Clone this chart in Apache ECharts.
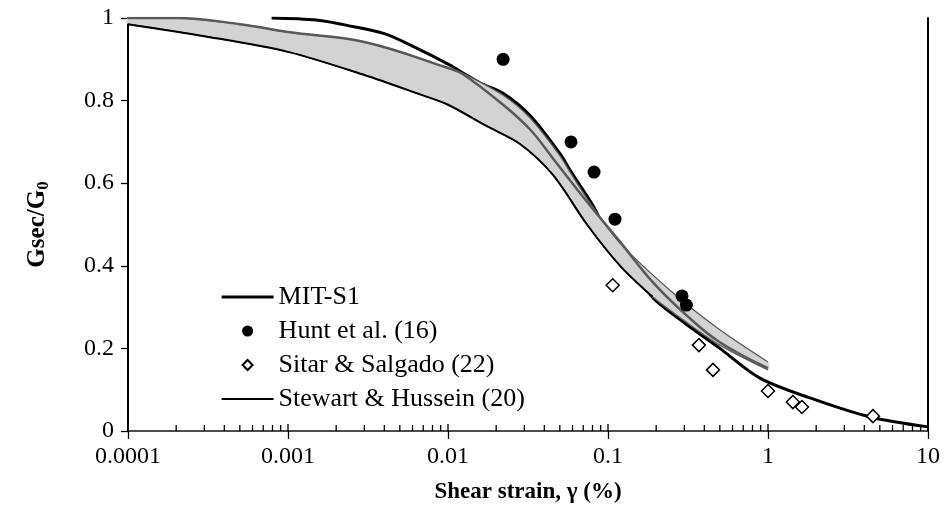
<!DOCTYPE html>
<html>
<head>
<meta charset="utf-8">
<script src="https://cdn.jsdelivr.net/npm/echarts@6/dist/echarts.min.js"></script>
<style>
  html, body { margin: 0; padding: 0; background: #fff; }
  #chart { width: 947px; height: 524px; }
</style>
</head>
<body>
<div id="chart"></div>
<script>
// tick labels
const xTickLabels = ['0.0001', '0.001', '0.01', '0.1', '1', '10']

// MIT-S1 curve (drawn under the band, so its middle part is hidden)
const mitX = [0.00079, 0.0015, 0.0025, 0.004, 0.006, 0.0103, 0.0124, 0.016, 0.0221, 0.0326, 0.05, 0.0587, 0.0805, 0.1, 0.125, 0.16, 0.2, 0.31, 0.5, 0.89, 1.83, 4.34, 10]
const mitY = [1.0, 0.995, 0.98, 0.962, 0.932, 0.886, 0.867, 0.842, 0.818, 0.764, 0.672, 0.628, 0.546, 0.475, 0.415, 0.36, 0.315, 0.258, 0.2, 0.128, 0.08, 0.034, 0.01]

// band, upper and lower bounds
const upperX = [0.0001, 0.0002, 0.0005, 0.001, 0.003, 0.01, 0.0124, 0.0221, 0.0326, 0.05, 0.0587, 0.0805, 0.119, 0.244, 0.5, 1]
const upperY = [1.0, 1.0, 0.985, 0.966, 0.942, 0.879, 0.866, 0.813, 0.758, 0.667, 0.623, 0.542, 0.455, 0.341, 0.245, 0.167]
const lowerX = [0.0001, 0.0003, 0.001, 0.003, 0.00668, 0.01, 0.0175, 0.0282, 0.0453, 0.0739, 0.119, 0.19, 0.31, 0.5, 1]
const lowerY = [0.985, 0.956, 0.918, 0.862, 0.815, 0.79, 0.738, 0.695, 0.62, 0.5, 0.40, 0.325, 0.263, 0.208, 0.148]

// Stewart & Hussein (20): black line along the lower bound
const stewartX = [0.0001, 0.0003, 0.001, 0.003, 0.00668, 0.01, 0.0175, 0.0282, 0.0453, 0.0739, 0.119, 0.19]
const stewartY = [0.985, 0.956, 0.918, 0.862, 0.815, 0.79, 0.738, 0.695, 0.62, 0.5, 0.40, 0.325]

// grey mean line through the band
const meanX = [0.0001, 0.0002, 0.0005, 0.001, 0.003, 0.01, 0.0124, 0.0221, 0.0326, 0.0453, 0.0739, 0.119, 0.191, 0.31, 0.5, 1]
const meanY = [1.0, 1.0, 0.985, 0.966, 0.942, 0.879, 0.864, 0.79, 0.73, 0.66, 0.555, 0.458, 0.36, 0.28, 0.215, 0.152]

// Hunt et al. (16)
const huntX = [0.0221, 0.0587, 0.0818, 0.1106, 0.29, 0.309]
const huntY = [0.90, 0.70, 0.627, 0.513, 0.327, 0.305]

// Sitar & Salgado (22)
const sitarX = [0.107, 0.37, 0.453, 1.0, 1.43, 1.63, 4.53]
const sitarY = [0.353, 0.208, 0.148, 0.097, 0.070, 0.058, 0.036]

const zip = (xs, ys) => xs.map((x, i) => [x, ys[i]])

// minor ticks 2..9 per decade, majors at decades
const minorTicks = []
const majorTicks = []
for (let e = -4; e <= 1; e++) {
  majorTicks.push(Math.pow(10, e))
  if (e < 1) {
    for (let k = 2; k <= 9; k++) minorTicks.push(k * Math.pow(10, e))
  }
}

const font = "'Liberation Serif', 'Times New Roman', serif"

const tickSeries = (name, vals, len) => ({
  name: name,
  type: 'custom',
  silent: true,
  clip: false,
  z: 5,
  data: vals.map((v) => [v, 0]),
  renderItem: (params, api) => {
    const p = api.coord([api.value(0), 0])
    return {
      type: 'line',
      shape: { x1: p[0], y1: p[1], x2: p[0], y2: p[1] - len },
      style: { stroke: '#000', lineWidth: 1.3 },
    }
  },
})

const chart = echarts.init(document.getElementById('chart'))
chart.setOption({
  animation: false,
  backgroundColor: '#fff',
  textStyle: { fontFamily: font },
  grid: { left: 128, right: 19, top: 18, bottom: 93 },
  legend: {
    orient: 'vertical',
    left: 215,
    top: 279,
    itemWidth: 52,
    itemHeight: 11,
    itemGap: 8,
    textStyle: { fontFamily: font, fontSize: 26, color: '#000', lineHeight: 26 },
    data: [
      { name: 'MIT-S1', itemStyle: { opacity: 0 }, lineStyle: { width: 3.2, color: '#000' } },
      { name: 'Hunt et al. (16)' },
      { name: 'Sitar & Salgado (22)', icon: 'path://M0,0 M52,11 M26,0.5 L31,5.5 L26,10.5 L21,5.5 Z' },
      { name: 'Stewart & Hussein (20)', itemStyle: { opacity: 0 }, lineStyle: { width: 2, color: '#000' } },
    ],
  },
  xAxis: [
    {
      type: 'log',
      logBase: 10,
      min: 0.0001,
      max: 10,
      name: 'Shear strain, γ (%)',
      nameLocation: 'middle',
      nameGap: 50,
      nameTextStyle: { fontFamily: font, fontSize: 23, fontWeight: 'bold', color: '#000' },
      axisLine: { lineStyle: { color: '#000', width: 2 } },
      axisTick: { show: true, length: 8, lineStyle: { color: '#000', width: 1.3 } },
      axisLabel: {
        margin: 14,
        fontSize: 24,
        color: '#000',
        fontFamily: font,
        formatter: (v) => xTickLabels[Math.round(Math.log10(v)) + 4],
      },
      splitLine: { show: false },
    },
    {
      type: 'log',
      logBase: 10,
      min: 0.0001,
      max: 10,
      position: 'top',
      axisLine: { lineStyle: { color: '#666', width: 1.5 } },
      axisTick: { show: false },
      axisLabel: { show: false },
      splitLine: { show: false },
    },
  ],
  yAxis: [
    {
      type: 'value',
      min: 0,
      max: 1,
      interval: 0.2,
      name: '{a|Gsec/G}{b|0}',
      nameLocation: 'middle',
      nameGap: 76,
      nameRotate: 90,
      nameTextStyle: {
        rich: {
          a: { fontFamily: font, fontSize: 25, fontWeight: 'bold', color: '#000', lineHeight: 28 },
          b: { fontFamily: font, fontSize: 17, fontWeight: 'bold', color: '#000', lineHeight: 15, verticalAlign: 'bottom', padding: [13, 0, 0, 0] },
        },
      },
      axisLine: { show: true, lineStyle: { color: '#000', width: 2 } },
      axisTick: { show: true, length: 7, lineStyle: { color: '#000', width: 1.3 } },
      axisLabel: { margin: 14, fontSize: 24, color: '#000', fontFamily: font },
      splitLine: { show: false },
    },
    {
      type: 'value',
      min: 0,
      max: 1,
      position: 'right',
      axisLine: { show: true, lineStyle: { color: '#000', width: 2 } },
      axisTick: { show: false },
      axisLabel: { show: false },
      splitLine: { show: false },
    },
  ],
  series: [
    {
      name: 'MIT-S1',
      type: 'line',
      data: zip(mitX, mitY),
      symbol: 'none',
      smooth: 0.3,
      z: 1,
      color: '#000',
      lineStyle: { color: '#000', width: 3 },
    },
    {
      name: 'band',
      type: 'custom',
      silent: true,
      z: 2,
      data: [[0.0001, 0]],
      renderItem: (params, api) => {
        const pts = []
        upperX.forEach((x, i) => pts.push(api.coord([x, upperY[i]])))
        for (let i = lowerX.length - 1; i >= 0; i--) pts.push(api.coord([lowerX[i], lowerY[i]]))
        return {
          type: 'polygon',
          shape: { points: pts, smooth: 0.3 },
          style: { fill: '#d3d3d3', stroke: null },
        }
      },
    },
    {
      name: 'upper',
      type: 'line',
      data: zip(upperX, upperY),
      symbol: 'none',
      smooth: 0.3,
      z: 3,
      lineStyle: { color: '#5a5a5a', width: 1.3 },
    },
    {
      name: 'lower',
      type: 'line',
      data: zip(lowerX, lowerY),
      symbol: 'none',
      smooth: 0.3,
      z: 3,
      lineStyle: { color: '#5a5a5a', width: 1.3 },
    },
    {
      name: 'Stewart & Hussein (20)',
      type: 'line',
      data: zip(stewartX, stewartY),
      symbol: 'none',
      smooth: 0.3,
      z: 3,
      color: '#000',
      lineStyle: { color: '#000', width: 2 },
    },
    {
      name: 'mean',
      type: 'line',
      data: zip(meanX, meanY),
      symbol: 'none',
      smooth: 0.4,
      z: 4,
      lineStyle: { color: '#595959', width: 2.5 },
    },
    {
      name: 'Hunt et al. (16)',
      type: 'scatter',
      data: zip(huntX, huntY),
      symbol: 'circle',
      symbolSize: 13,
      z: 6,
      itemStyle: { color: '#000', opacity: 1 },
    },
    {
      name: 'Sitar & Salgado (22)',
      type: 'scatter',
      data: zip(sitarX, sitarY),
      symbol: 'diamond',
      symbolSize: 13,
      z: 6,
      itemStyle: { color: '#fff', borderColor: '#000', borderWidth: 1.5, opacity: 1 },
    },
    tickSeries('minorTicks', minorTicks, 6),
    tickSeries('majorTicks', majorTicks, 7),
  ],
})
</script>
</body>
</html>
